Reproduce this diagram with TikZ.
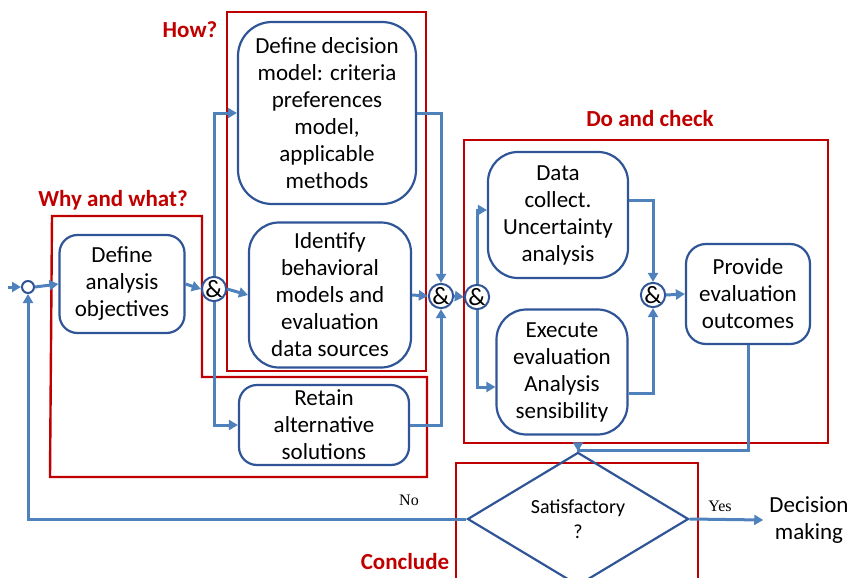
\documentclass[tikz,border=0pt]{standalone}
\usepackage{fontspec}
\setmainfont{Carlito}
\newfontfamily\serif{Liberation Serif}
\usetikzlibrary{arrows.meta,shapes.geometric}
\definecolor{boxblue}{RGB}{47,85,151}
\definecolor{linkblue}{RGB}{79,129,189}
\definecolor{framered}{RGB}{192,0,0}

\begin{document}
\begin{tikzpicture}[x=1pt, y=-1pt,
  stepbox/.style={draw=boxblue, line width=2.2pt, rounded corners=#1, align=center,
    inner sep=0pt, font=\fontsize{23}{27}\selectfont},
  stepbox/.default=20pt,
  andnode/.style={circle, draw=boxblue, line width=2pt, minimum size=24pt, inner sep=0pt,
    font=\fontsize{25}{25}\selectfont},
  link/.style={draw=linkblue, line width=3pt, -{Triangle[length=9pt,width=10pt]}},
  frame/.style={draw=framered, line width=2.4pt},
  phase/.style={text=framered, font=\bfseries\fontsize{23}{27}\selectfont},
  answer/.style={font=\serif\fontsize{16}{18}\selectfont}
]
  \useasboundingbox (0,0) rectangle (851,578);

  % Red phase frames
  \draw[frame] (52,216) -- (202,216) -- (202,377) -- (427,377) -- (427,477) -- (50,477) -- cycle;
  \draw[frame] (227,12) rectangle (426,371);
  \draw[frame] (464,140) rectangle (828,443);
  \draw[frame] (456,580) -- (456,463) -- (698,463) -- (698,580);

  \node[phase] (whylabel) at (113,200) {Why and what?};
  \node[phase] (howlabel) at (190,30) {How?};
  \node[phase] (dolabel) at (650,119) {Do and check};
  \node[phase] (conclabel) at (405,562) {Conclude};

  % Steps
  \node[stepbox=18pt, minimum width=125pt, minimum height=98pt] (objectives) at (122,284)
    {Define\\analysis\\objectives};
  \node[stepbox=34pt, minimum width=178pt, minimum height=182pt] (model) at (327,113)
    {Define decision\\model: criteria\\preferences\\model,\\applicable\\methods};
  \node[stepbox=30pt, minimum width=162pt, minimum height=145pt] (behavior) at (330,295)
    {Identify\\behavioral\\models and\\evaluation\\data sources};
  \node[stepbox=18pt, minimum width=170pt, minimum height=80pt] (retain) at (324,425)
    {Retain\\alternative\\solutions};
  \node[stepbox=30pt, minimum width=140pt, minimum height=126pt] (collect) at (558,215)
    {Data\\collect.\\Uncertainty\\analysis};
  \node[stepbox=30pt, minimum width=131pt, minimum height=125pt] (execute) at (562,372)
    {Execute\\evaluation\\Analysis\\sensibility};
  \node[stepbox=20pt, minimum width=124pt, minimum height=100pt] (provide) at (748,294)
    {Provide\\evaluation\\outcomes};
  \node[diamond, draw=boxblue, line width=2.2pt, minimum width=221pt, minimum height=94pt,
    inner sep=0pt, align=center, font=\fontsize{20}{25}\selectfont] (satisfy) at (578,519)
    {Satisfactory\\?};
  \node[align=center, inner sep=6pt, font=\fontsize{23}{27}\selectfont] (decision) at (809,520)
    {Decision\\making};

  % Junctions
  \node[circle, draw=boxblue, line width=2pt, minimum size=12pt, inner sep=0pt] (start) at (28,287) {};
  \node[andnode] (split) at (214,289) {\&};
  \node[andnode] (gather) at (441,296) {\&};
  \node[andnode] (fork) at (477,297) {\&};
  \node[andnode] (join) at (653,295) {\&};

  \coordinate (input) at (8,287);
  \coordinate (down) at (748,450);

  % Connectors
  \draw[link] (input) -- (start.west);
  \draw[link] (start.east) -- (objectives.west);
  \draw[link] (objectives.east) -- (split.west);
  \draw[link] (split.east) -- (behavior.west);
  \draw[link] (split.north) |- (model.west);
  \draw[link] (split.south) |- (retain.west);
  \draw[link] (model.east) -| (gather.north);
  \draw[link] (behavior.east) -- (gather.west);
  \draw[link] (retain.east) -| (gather.south);
  \draw[link] (gather.east) -- (fork.west);
  \draw[link] (fork.north) |- ([yshift=5pt]collect.west);
  \draw[link] (fork.south) |- ([yshift=-15pt]execute.west);
  \draw[link] ([yshift=15pt]collect.east) -| (join.north);
  \draw[link] ([yshift=-21pt]execute.east) -| (join.south);
  \draw[link] (join.east) -- (provide.west);
  \draw[link] (provide.south) -- (down) -| (satisfy.north);
  \draw[link] (satisfy.west) -| (start.south);
  \draw[link] (satisfy.east) -- (decision.west);

  \node[answer] (no) at (409,500) {No};
  \node[answer] (yes) at (720,506) {Yes};

\end{tikzpicture}
\end{document}
